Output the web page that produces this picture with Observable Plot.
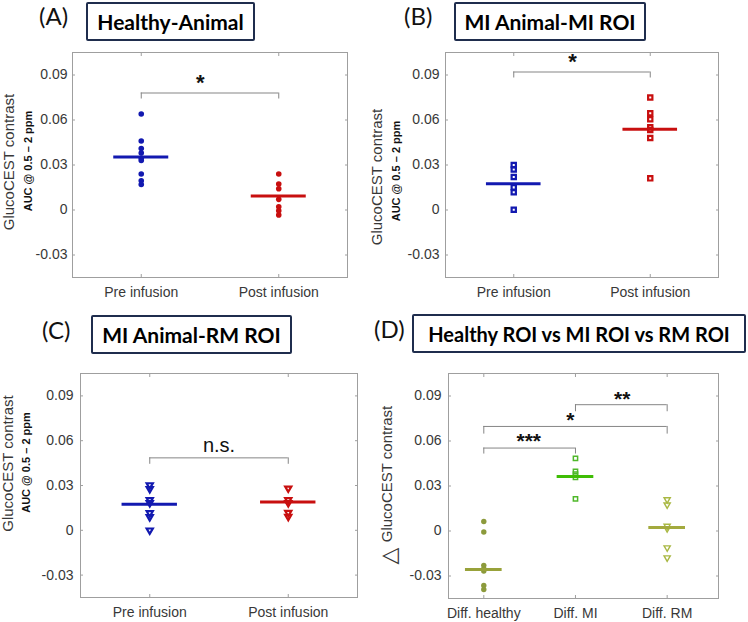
<!DOCTYPE html>
<html><head><meta charset="utf-8">
<script src="https://cdn.jsdelivr.net/npm/d3@7"></script>
<script src="https://cdn.jsdelivr.net/npm/@observablehq/plot@0.6"></script>
<style>
body{margin:0;background:#fff;}
#root{position:relative;width:748px;height:622px;overflow:hidden;background:#fff;}
.panel{position:absolute;}
.tag{position:absolute;font-family:Lato,"Open Sans",sans-serif;font-size:24px;color:#111;line-height:24px;white-space:nowrap;}
.box{position:absolute;box-sizing:border-box;border:2.5px solid #1f2d4d;border-radius:2px;display:flex;align-items:center;justify-content:center;font-family:Lato,"Open Sans",sans-serif;font-weight:700;font-size:21px;color:#000;white-space:nowrap;}
</style></head><body><div id="root"></div>
<script>
// ---------- shared axis values ----------
const yTicks = [-0.03, 0, 0.03, 0.06, 0.09];
const yTickLabels = ["-0.03", "0", "0.03", "0.06", "0.09"];
const yLabel = "GlucoCEST contrast";
const ySubLabel = "AUC @ 0.5 \u2013 2 ppm";

// ---------- Panel A : Healthy-Animal ----------
const aTitle = "Healthy-Animal";
const aCategories = ["Pre infusion", "Post infusion"];
const aPre = [0.064, 0.046, 0.041, 0.038, 0.0345, 0.033, 0.024, 0.0195, 0.017];
const aPost = [0.024, 0.0173, 0.0142, 0.0071, 0.0022, -0.0005, -0.0033];
const aMeans = [0.0353, 0.0093];
const aSigLabels = ["*"];
const aSigFrom = [1];
const aSigTo = [2];
const aSigLevel = [0.078];
const aSigDrop = [0.074];
const aSigTextX = [1.43];
const aSigTextY = [0.0845];

// ---------- Panel B : MI Animal-MI ROI ----------
const bTitle = "MI Animal-MI ROI";
const bCategories = ["Pre infusion", "Post infusion"];
const bPre = [0.030, 0.027, 0.022, 0.0151, 0.0118, 0.0002];
const bPost = [0.075, 0.0645, 0.0605, 0.0551, 0.0533, 0.048, 0.0211];
const bMeans = [0.0175, 0.0538];
const bSigLabels = ["*"];
const bSigFrom = [1];
const bSigTo = [2];
const bSigLevel = [0.092];
const bSigDrop = [0.088];
const bSigTextX = [1.43];
const bSigTextY = [0.0985];

// ---------- Panel C : MI Animal-RM ROI ----------
const cTitle = "MI Animal-RM ROI";
const cCategories = ["Pre infusion", "Post infusion"];
const cPre = [0.0303, 0.0277, 0.0203, 0.0183, 0.0116, 0.0089, 0];
const cPost = [0.0281, 0.0203, 0.0183, 0.0118, 0.0091];
const cMeans = [0.0174, 0.019];
const cSigLabels = ["n.s."];
const cSigFrom = [1];
const cSigTo = [2];
const cSigLevel = [0.0485];
const cSigDrop = [0.0442];
const cSigTextX = [1.5];
const cSigTextY = [0.0565];

// ---------- Panel D : Healthy ROI vs MI ROI vs RM ROI ----------
const dTitle = "Healthy ROI vs MI ROI vs RM ROI";
const dCategories = ["Diff. healthy", "Diff. MI", "Diff. RM"];
const dHealthy = [0.0063, -0.0007, -0.0229, -0.0251, -0.0267, -0.0363, -0.039];
const dMI = [0.0484, 0.0397, 0.0379, 0.0357, 0.0214];
const dRM = [0.021, 0.0175, 0.0033, 0.0016, -0.0111, -0.0178];
const dMeans = [-0.0256, 0.0363, 0.0023];
const dSigLabels = ["***", "*", "**"];
const dSigFrom = [1, 1, 2];
const dSigTo = [2, 3, 3];
const dSigLevel = [0.0553, 0.0697, 0.0842];
const dSigDrop = [0.0513, 0.0646, 0.0795];
const dSigTextX = [1.49, 1.945, 2.51];
const dSigTextY = [0.0595, 0.0736, 0.0881];
const dYLabel = "GlucoCEST contrast";
const dDelta = "\u25B3";

// ---------- colours ----------
const BLUE = "#1219b0", RED = "#c80f0f";
const OLIVE = "#8c9a3c", GREEN = "#4fb82a", LIME = "#a9b843";
const OLIVE_L = "#98a23a", GREEN_L = "#3fbd05", LIME_L = "#a3aa3e";
const FRAME = "#9f9f9f", TXT = "#383838";
const SANS = "'Liberation Sans', Arial, sans-serif";

// custom downward triangle symbol
const triangleDown = {
  draw(ctx, size) {
    const y = Math.sqrt(size / (Math.sqrt(3) * 3));
    ctx.moveTo(0, 2 * y);
    ctx.lineTo(-Math.sqrt(3) * y, -y);
    ctx.lineTo(Math.sqrt(3) * y, -y);
    ctx.closePath();
  }
};

const root = document.getElementById("root");

function rows(values, xpos) { return values.map(v => ({x: xpos, y: v})); }

function makePanel(cfg) {
  const xTicks = cfg.categories.map((_, i) => i + 1);
  const sig = cfg.sigLabels.map((l, i) => ({
    label: l, x1: cfg.sigFrom[i], x2: cfg.sigTo[i], y: cfg.sigLevel[i],
    drop: cfg.sigDrop[i], tx: cfg.sigTextX[i], ty: cfg.sigTextY[i]
  }));
  const drops = sig.flatMap(s => [{x: s.x1, y1: s.drop, y2: s.y}, {x: s.x2, y1: s.drop, y2: s.y}]);
  const meanRows = cfg.means.map((m, i) => ({y: m, x1: i + 1 - 0.2, x2: i + 1 + 0.2, c: cfg.lineColors[i]}));
  const marks = [
    Plot.frame({stroke: FRAME}),
    Plot.axisY({anchor: "left", ticks: yTicks, tickSize: -3, tickFormat: () => "", label: null, color: FRAME}),
    Plot.axisY({anchor: "right", ticks: yTicks, tickSize: -3, tickFormat: () => "", label: null, color: FRAME}),
    Plot.axisX({anchor: "bottom", ticks: xTicks, tickSize: -3, tickFormat: () => "", label: null, color: FRAME}),
    Plot.axisX({anchor: "top", ticks: xTicks, tickSize: -3, tickFormat: () => "", label: null, color: FRAME}),
    Plot.axisY({anchor: "left", ticks: yTicks, tickSize: 0, tickPadding: cfg.yPad, fontSize: 14,
      tickFormat: d => yTickLabels[yTicks.indexOf(d)], label: null, color: TXT}),
    Plot.axisX({anchor: "bottom", ticks: xTicks, tickSize: 0, tickPadding: 10, fontSize: 14,
      tickFormat: d => cfg.categories[d - 1], label: null, color: TXT}),
    Plot.ruleY(sig, {y: "y", x1: "x1", x2: "x2", stroke: "#858585", strokeWidth: 1}),
    Plot.ruleX(drops, {x: "x", y1: "y1", y2: "y2", stroke: "#858585", strokeWidth: 1}),
    Plot.text(sig, {x: "tx", y: "ty", text: "label", fontSize: cfg.sigFont, fontWeight: cfg.sigWeight,
      fill: "#111", fontFamily: SANS})
  ];
  cfg.groups.forEach((g, i) => {
    marks.push(Plot.dot(rows(g.values, i + 1), {x: "x", y: "y", r: g.r, symbol: g.symbol,
      fill: g.fill, stroke: g.stroke, strokeWidth: g.sw}));
  });
  marks.push(Plot.ruleY(meanRows, {y: "y", x1: "x1", x2: "x2", stroke: "c", strokeWidth: 3}));
  cfg.labels.forEach(l => {
    marks.push(Plot.text([l.text], {frameAnchor: "left", textAnchor: "middle", lineAnchor: "middle",
      rotate: -90, dx: l.dx, dy: l.dy,
      fontSize: l.size, fontWeight: l.weight || "normal", fill: l.fill || TXT,
      fontFamily: l.font || SANS}));
  });
  const svg = Plot.plot({
    width: cfg.width, height: cfg.height,
    marginLeft: cfg.mL, marginTop: cfg.mT, marginRight: cfg.mR, marginBottom: cfg.mB,
    x: {type: "linear", domain: cfg.xDomain},
    y: {domain: [-0.045, 0.105]},
    color: {type: "identity"},
    style: {background: "transparent", fontFamily: SANS, overflow: "visible"},
    marks
  });
  svg.classList.add("panel");
  svg.style.position = "absolute";
  svg.style.left = cfg.left + "px";
  svg.style.top = cfg.top + "px";
  root.appendChild(svg);

  const tag = document.createElement("div");
  tag.className = "tag";
  tag.textContent = cfg.tag;
  tag.style.left = cfg.tagX + "px";
  tag.style.top = (cfg.tagY - 12) + "px";
  root.appendChild(tag);

  const box = document.createElement("div");
  box.className = "box";
  box.textContent = cfg.title;
  box.style.left = cfg.box[0] + "px";
  box.style.top = cfg.box[1] + "px";
  box.style.width = cfg.box[2] + "px";
  box.style.height = cfg.box[3] + "px";
  if (cfg.titleSize) box.style.fontSize = cfg.titleSize + "px";
  root.appendChild(box);
}

const subLabel = (dx, dy) => ({text: ySubLabel, dx, dy, size: 11, weight: "bold", fill: "#111"});
const mainLabel = (dx, dy) => ({text: yLabel, dx, dy, size: 15});

makePanel({
  left: 0, top: 0, width: 374, height: 311, mL: 72, mT: 52, mR: 27, mB: 34,
  xDomain: [0.5, 2.5], categories: aCategories, yPad: 5,
  groups: [
    {values: aPre, r: 2.8, symbol: "circle", fill: BLUE, stroke: "none", sw: 0},
    {values: aPost, r: 2.8, symbol: "circle", fill: RED, stroke: "none", sw: 0}
  ],
  means: aMeans, lineColors: [BLUE, RED],
  sigLabels: aSigLabels, sigFrom: aSigFrom, sigTo: aSigTo, sigLevel: aSigLevel, sigDrop: aSigDrop,
  sigTextX: aSigTextX, sigTextY: aSigTextY, sigFont: 22, sigWeight: "bold",
  labels: [mainLabel(-63, -3), subLabel(-44, -4)],
  tag: "(A)", tagX: 39, tagY: 16, title: aTitle, box: [86, 2, 169, 39]
});

makePanel({
  left: 374, top: 0, width: 374, height: 311, mL: 71, mT: 52, mR: 30, mB: 34,
  xDomain: [0.5, 2.5], categories: bCategories, yPad: 6,
  groups: [
    {values: bPre, r: 2.4, symbol: "square", fill: "none", stroke: BLUE, sw: 2.2},
    {values: bPost, r: 2.4, symbol: "square", fill: "none", stroke: RED, sw: 2.2}
  ],
  means: bMeans, lineColors: [BLUE, RED],
  sigLabels: bSigLabels, sigFrom: bSigFrom, sigTo: bSigTo, sigLevel: bSigLevel, sigDrop: bSigDrop,
  sigTextX: bSigTextX, sigTextY: bSigTextY, sigFont: 22, sigWeight: "bold",
  labels: [mainLabel(-68, 12), subLabel(-49, 6)],
  tag: "(B)", tagX: 404, tagY: 16, title: bTitle, box: [454, 2, 192, 39]
});

makePanel({
  left: 0, top: 311, width: 374, height: 311, mL: 80, mT: 62, mR: 17, mB: 25,
  xDomain: [0.5, 2.5], categories: cCategories, yPad: 7,
  groups: [
    {values: cPre, r: 2.3, symbol: triangleDown, fill: "none", stroke: BLUE, sw: 2.2},
    {values: cPost, r: 2.3, symbol: triangleDown, fill: "none", stroke: RED, sw: 2.2}
  ],
  means: cMeans, lineColors: [BLUE, RED],
  sigLabels: cSigLabels, sigFrom: cSigFrom, sigTo: cSigTo, sigLevel: cSigLevel, sigDrop: cSigDrop,
  sigTextX: cSigTextX, sigTextY: cSigTextY, sigFont: 20, sigWeight: "normal",
  labels: [mainLabel(-72, -22), subLabel(-54, -23)],
  tag: "(C)", tagX: 42, tagY: 330, title: cTitle, box: [91, 315, 201, 39]
});

makePanel({
  left: 374, top: 311, width: 374, height: 311, mL: 74, mT: 62, mR: 30, mB: 24,
  xDomain: [0.615, 3.56], categories: dCategories, yPad: 7,
  groups: [
    {values: dHealthy, r: 2.7, symbol: "circle", fill: OLIVE, stroke: "none", sw: 0},
    {values: dMI, r: 2.4, symbol: "square", fill: "none", stroke: GREEN, sw: 1.5},
    {values: dRM, r: 2.3, symbol: triangleDown, fill: "none", stroke: LIME, sw: 1.4}
  ],
  means: dMeans, lineColors: [OLIVE_L, GREEN_L, LIME_L],
  sigLabels: dSigLabels, sigFrom: dSigFrom, sigTo: dSigTo, sigLevel: dSigLevel, sigDrop: dSigDrop,
  sigTextX: dSigTextX, sigTextY: dSigTextY, sigFont: 21, sigWeight: "bold",
  labels: [
    {text: dYLabel, dx: -61, dy: -12, size: 15},
    {text: dDelta, dx: -60, dy: 70, size: 22, font: "'DejaVu Sans', sans-serif"}
  ],
  tag: "(D)", tagX: 374, tagY: 329, title: dTitle, box: [412, 314, 334, 39], titleSize: 20
});
</script></body></html>
